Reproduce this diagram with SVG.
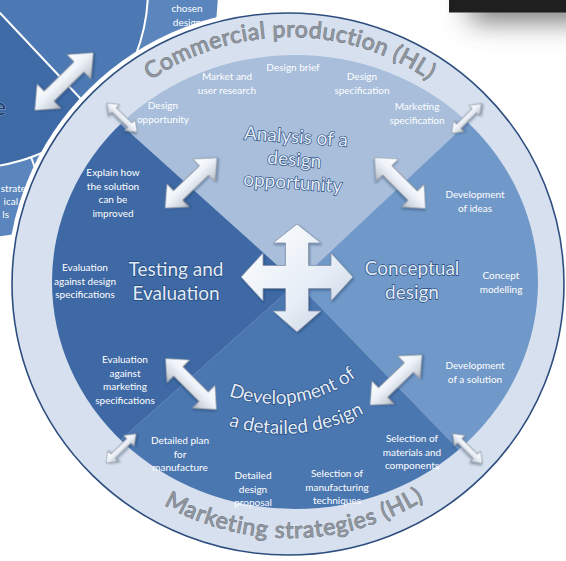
<svg xmlns="http://www.w3.org/2000/svg" width="566" height="561" viewBox="0 0 566 561">
<style>
.lbl{font-family:Lato,"Open Sans",sans-serif;font-size:10px;fill:#ffffff;text-anchor:middle}
.ttl{font-family:Lato,"Open Sans",sans-serif;font-size:19px;fill:#e4ecf7;stroke:#21487c;stroke-width:1.3px;paint-order:stroke fill;text-anchor:middle}
.ring{font-family:Lato,"Open Sans",sans-serif;font-size:23px;fill:#8f959d;stroke:#5c6169;stroke-width:0.7px;paint-order:stroke fill}
.arr{fill:url(#ag);stroke:#8f97a2;stroke-width:0.8px;filter:url(#ds)}
.wl{stroke:#ffffff;stroke-width:2;fill:none}
</style>
<defs>
<linearGradient id="ag" x1="0" y1="0" x2="0" y2="1">
<stop offset="0" stop-color="#ffffff"/>
<stop offset="0.45" stop-color="#eef3f9"/>
<stop offset="0.8" stop-color="#ccd2da"/>
<stop offset="1" stop-color="#a3a9b2"/>
</linearGradient>
<linearGradient id="cg" x1="0" y1="0" x2="1" y2="1">
<stop offset="0" stop-color="#ffffff"/>
<stop offset="0.6" stop-color="#e6edf6"/>
<stop offset="1" stop-color="#c3cedd"/>
</linearGradient>
<filter id="ds" x="-30%" y="-30%" width="160%" height="160%">
<feDropShadow dx="1" dy="1.5" stdDeviation="1" flood-color="#1a3358" flood-opacity="0.45"/>
</filter>
<filter id="blur" x="-50%" y="-100%" width="200%" height="400%">
<feGaussianBlur stdDeviation="14"/>
</filter>
<clipPath id="innerClip"><ellipse cx="295" cy="282" rx="243" ry="227"/></clipPath>
<clipPath id="discInner"><circle cx="-30" cy="-10" r="178"/></clipPath>
<polygon id="aL" points="-41,0 -21,-17 -21,-7 21,-7 21,-17 41,0 21,17 21,7 -21,7 -21,17"/>
<polygon id="aM" points="-36,0 -18,-16 -18,-6.5 18,-6.5 18,-16 36,0 18,16 18,6.5 -18,6.5 -18,16"/>
<polygon id="aS" points="-21,0 -11,-7.5 -11,-3 11,-3 11,-7.5 21,0 11,7.5 11,3 -11,3 -11,7.5"/>
<path id="topArc" d="M132.5,94.3 A245,245 0 0 1 447.5,94.3"/>
<path id="botArc" d="M147.2,494.5 A256,256 0 0 0 440.8,488.8"/>
<path id="devArc1" d="M168.6,352.7 A136,136 0 0 0 401.5,317.8"/>
<path id="devArc2" d="M141.5,361.1 A172,172 0 0 0 438.1,334.2"/>
</defs>
<rect x="0" y="0" width="566" height="561" fill="#ffffff"/>

<g id="background-cycle">
<circle cx="-30" cy="-10" r="248" fill="#5a86bd"/>
<circle cx="-30" cy="-10" r="178" fill="#3e6aa6"/>
<polygon points="-30,-19 370,405 370,-400 -30,-400" fill="#4c79b3" clip-path="url(#discInner)"/>
<circle class="wl" cx="-30" cy="-10" r="178"/>
<line class="wl" x1="-30" y1="-19" x2="95" y2="114"/>
<line class="wl" x1="31" y1="157" x2="57" y2="229"/>
<text class="lbl" x="187" y="12">chosen</text>
<text class="lbl" x="187" y="26">design</text>
<text class="lbl" x="26" y="192" style="text-anchor:end">strate</text>
<text class="lbl" x="18" y="205" style="text-anchor:end">ical</text>
<text class="lbl" x="9" y="218" style="text-anchor:end">ls</text>
<text x="6" y="115" style="font-family:Lato,sans-serif;font-size:24px;fill:#1b3a66;stroke:#9fb8da;stroke-width:0.8px;paint-order:stroke;text-anchor:end">e</text>
</g>

<g id="corner-box">
<rect x="470" y="-10" width="130" height="30" fill="#6a6a6a" filter="url(#blur)"/>
<rect x="449" y="0" width="117" height="12.5" fill="#1f1f1f"/>
</g>

<g id="outer-ring">
<ellipse cx="288" cy="284" rx="276" ry="271" fill="none" stroke="#ffffff" stroke-width="10"/>
<ellipse cx="288" cy="284" rx="276" ry="271" fill="#d6e0ee" stroke="#2d4e7e" stroke-width="1.6"/>
<text class="ring" letter-spacing="0.5"><textPath href="#topArc" startOffset="50%" text-anchor="middle">Commercial production (HL)</textPath></text>
<text class="ring" letter-spacing="0.8"><textPath href="#botArc" startOffset="50%" text-anchor="middle">Marketing strategies (HL)</textPath></text>
</g>

<g id="node-analysis">
<polygon points="297,283 -103,-77 697,-93" fill="#a8bedb" clip-path="url(#innerClip)"/>
<text class="ttl" transform="rotate(4 294 165)"><tspan x="294" y="143">Analysis of a</tspan><tspan x="294" y="166">design</tspan><tspan x="294" y="189">opportunity</tspan></text>
<text class="lbl" x="293" y="71">Design brief</text>
<text class="lbl"><tspan x="227" y="80">Market and</tspan><tspan x="227" y="93.5">user research</tspan></text>
<text class="lbl"><tspan x="362" y="80">Design</tspan><tspan x="362" y="93.5">specification</tspan></text>
<text class="lbl"><tspan x="163" y="109">Design</tspan><tspan x="163" y="122.5">opportunity</tspan></text>
<text class="lbl"><tspan x="417" y="110">Marketing</tspan><tspan x="417" y="123.5">specification</tspan></text>
</g>

<g id="node-conceptual">
<polygon points="297,283 697,-93 697,695" fill="#7098c8" clip-path="url(#innerClip)"/>
<text class="ttl"><tspan x="412" y="275">Conceptual</tspan><tspan x="412" y="299">design</tspan></text>
<text class="lbl"><tspan x="475" y="198">Development</tspan><tspan x="475" y="211.5">of ideas</tspan></text>
<text class="lbl"><tspan x="501" y="279">Concept</tspan><tspan x="501" y="292.5">modelling</tspan></text>
<text class="lbl"><tspan x="475" y="369">Development</tspan><tspan x="475" y="382.5">of a solution</tspan></text>
</g>

<g id="node-development">
<polygon points="297,283 697,695 -103,639" fill="#4b77b1" clip-path="url(#innerClip)"/>
<text class="ttl"><textPath href="#devArc1" startOffset="50%" text-anchor="middle">Development of</textPath></text>
<text class="ttl"><textPath href="#devArc2" startOffset="50%" text-anchor="middle">a detailed design</textPath></text>
<text class="lbl"><tspan x="412" y="442">Selection of</tspan><tspan x="412" y="455.5">materials and</tspan><tspan x="412" y="469">components</tspan></text>
<text class="lbl"><tspan x="337" y="477">Selection of</tspan><tspan x="337" y="490.5">manufacturing</tspan><tspan x="337" y="504">techniques</tspan></text>
<text class="lbl"><tspan x="253" y="479">Detailed</tspan><tspan x="253" y="492.5">design</tspan><tspan x="253" y="506">proposal</tspan></text>
<text class="lbl"><tspan x="180" y="444">Detailed plan</tspan><tspan x="180" y="457.5">for</tspan><tspan x="180" y="471">manufacture</tspan></text>
</g>

<g id="node-testing">
<polygon points="297,283 -103,639 -103,-77" fill="#3e69a5" clip-path="url(#innerClip)"/>
<text class="ttl"><tspan x="176" y="276">Testing and</tspan><tspan x="176" y="300">Evaluation</tspan></text>
<text class="lbl"><tspan x="113" y="176">Explain how</tspan><tspan x="113" y="189.5">the solution</tspan><tspan x="113" y="203">can be</tspan><tspan x="113" y="216.5">improved</tspan></text>
<text class="lbl"><tspan x="85" y="271">Evaluation</tspan><tspan x="85" y="284.5">against design</tspan><tspan x="85" y="298">specifications</tspan></text>
<text class="lbl"><tspan x="125" y="363">Evaluation</tspan><tspan x="125" y="376.5">against</tspan><tspan x="125" y="390">marketing</tspan><tspan x="125" y="403.5">specifications</tspan></text>
</g>

<g id="connectors">
<use href="#aL" class="arr" transform="translate(64 81.5) rotate(-44.5)"/>
<use href="#aS" class="arr" transform="translate(122 117.5) rotate(44)"/>
<use href="#aS" class="arr" transform="translate(466.5 118.5) rotate(-45)"/>
<use href="#aS" class="arr" transform="translate(121 448.5) rotate(-44)"/>
<use href="#aS" class="arr" transform="translate(467.5 448.5) rotate(45)"/>
<use href="#aM" class="arr" transform="translate(191 183) rotate(-44)"/>
<use href="#aM" class="arr" transform="translate(400 183) rotate(45)"/>
<use href="#aM" class="arr" transform="translate(191 384) rotate(45)"/>
<use href="#aM" class="arr" transform="translate(396 380) rotate(-44)"/>
<polygon class="arr" style="fill:url(#cg);stroke:#8593aa" transform="translate(297 277)" points="11.5,-11.5 34,-11.5 34,-24 56,0 34,24 34,11.5 11.5,11.5 11.5,34 24,34 0,55 -24,34 -11.5,34 -11.5,11.5 -34,11.5 -34,24 -56,0 -34,-24 -34,-11.5 -11.5,-11.5 -11.5,-34 -24,-34 0,-53 24,-34 11.5,-34"/>
</g>
</svg>
